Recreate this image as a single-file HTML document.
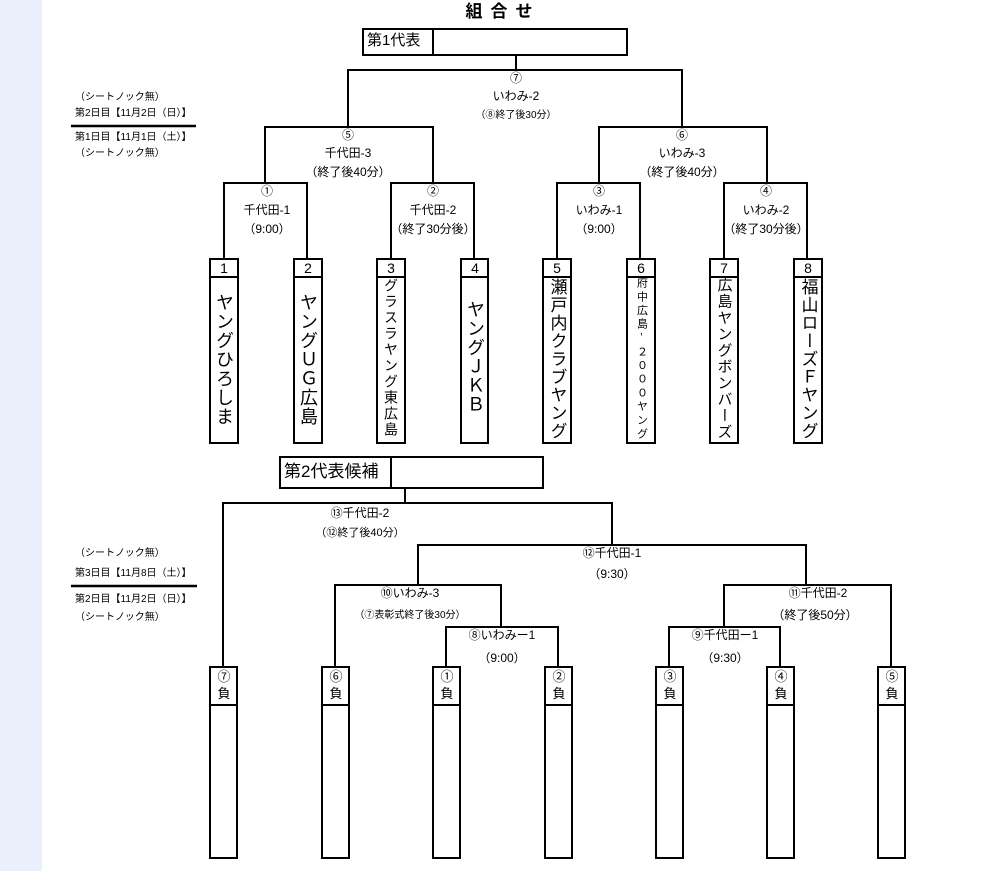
<!DOCTYPE html>
<html><head><meta charset="utf-8"><style>
body{margin:0;width:983px;height:871px;position:relative;background:#fff;overflow:hidden;font-family:"Liberation Sans","Noto Sans CJK JP",sans-serif;color:#000}
.strip{position:absolute;left:0;top:0;width:42px;height:871px;background:#e9f0fb}
.t{position:absolute;white-space:nowrap;transform:translateX(-50%);font-size:12px;line-height:14px}
.s{position:absolute;white-space:nowrap;font-size:10px;line-height:12px}
.v{position:absolute;writing-mode:vertical-rl;text-orientation:upright;white-space:nowrap;transform:translateX(-50%);line-height:1}
.n{position:absolute;font-size:14px;transform:translateX(-50%);line-height:16px}
</style></head><body>
<div class="strip"></div>
<svg width="983" height="871" style="position:absolute;left:0;top:0" fill="none" stroke="#000" stroke-width="2">
<rect x="363" y="29" width="264" height="26"/><line x1="433" y1="29" x2="433" y2="55"/>
<path d="M516 55V70M348 127V70H682V127M265 183V127H433V183M599 183V127H767V183"/>
<path d="M224 259V183H307V259M391 259V183H474V259M557 259V183H640V259M724 259V183H807V259"/>
<g>
<rect x="210" y="259" width="28" height="184"/><line x1="210" y1="277" x2="238" y2="277"/>
<rect x="294" y="259" width="28" height="184"/><line x1="294" y1="277" x2="322" y2="277"/>
<rect x="377" y="259" width="28" height="184"/><line x1="377" y1="277" x2="405" y2="277"/>
<rect x="461" y="259" width="27" height="184"/><line x1="461" y1="277" x2="488" y2="277"/>
<rect x="543" y="259" width="28" height="184"/><line x1="543" y1="277" x2="571" y2="277"/>
<rect x="627" y="259" width="28" height="184"/><line x1="627" y1="277" x2="655" y2="277"/>
<rect x="710" y="259" width="28" height="184"/><line x1="710" y1="277" x2="738" y2="277"/>
<rect x="794" y="259" width="28" height="184"/><line x1="794" y1="277" x2="822" y2="277"/>
</g>
<line x1="71" y1="126" x2="196" y2="126" stroke-width="2.5"/>
<line x1="71" y1="586" x2="197" y2="586" stroke-width="2.5"/>
<rect x="280" y="457" width="263" height="31"/><line x1="391" y1="457" x2="391" y2="488"/>
<path d="M405 488V503M223 667V503H612V545M418 585V545H806V585M335 667V585H501V627M724 627V585H891V667M446 667V627H558V667M669 667V627H780V667"/>
<g>
<rect x="210" y="667" width="27" height="191"/><line x1="210" y1="705" x2="237" y2="705"/>
<rect x="322" y="667" width="27" height="191"/><line x1="322" y1="705" x2="349" y2="705"/>
<rect x="433" y="667" width="27" height="191"/><line x1="433" y1="705" x2="460" y2="705"/>
<rect x="545" y="667" width="27" height="191"/><line x1="545" y1="705" x2="572" y2="705"/>
<rect x="656" y="667" width="27" height="191"/><line x1="656" y1="705" x2="683" y2="705"/>
<rect x="767" y="667" width="27" height="191"/><line x1="767" y1="705" x2="794" y2="705"/>
<rect x="878" y="667" width="27" height="191"/><line x1="878" y1="705" x2="905" y2="705"/>
</g>
</svg>
<div class="t" style="left:503px;top:2px;font-size:17px;line-height:20px;font-weight:bold;letter-spacing:8px">組合せ</div>
<div class="s" style="left:367px;top:32px;font-size:15px;line-height:18px">第1代表</div>
<div class="t" style="left:516px;top:71px">⑦</div>
<div class="t" style="left:516px;top:89px">いわみ-2</div>
<div class="t" style="left:516px;top:109px;font-size:10px">（⑧終了後30分）</div>
<div class="t" style="left:348px;top:128px">⑤</div><div class="t" style="left:348px;top:146px">千代田-3</div><div class="t" style="left:348px;top:165px">（終了後40分）</div>
<div class="t" style="left:682px;top:128px">⑥</div><div class="t" style="left:682px;top:146px">いわみ-3</div><div class="t" style="left:682px;top:165px">（終了後40分）</div>
<div class="t" style="left:267px;top:184px">①</div><div class="t" style="left:267px;top:203px">千代田-1</div><div class="t" style="left:267px;top:222px">（9:00）</div>
<div class="t" style="left:433px;top:184px">②</div><div class="t" style="left:433px;top:203px">千代田-2</div><div class="t" style="left:433px;top:222px">（終了30分後）</div>
<div class="t" style="left:599px;top:184px">③</div><div class="t" style="left:599px;top:203px">いわみ-1</div><div class="t" style="left:599px;top:222px">（9:00）</div>
<div class="t" style="left:766px;top:184px">④</div><div class="t" style="left:766px;top:203px">いわみ-2</div><div class="t" style="left:766px;top:222px">（終了30分後）</div>
<div class="s" style="left:75px;top:92px">（シートノック無）</div>
<div class="s" style="left:75px;top:108px">第2日目【11月2日（日）】</div>
<div class="s" style="left:75px;top:132px">第1日目【11月1日（土）】</div>
<div class="s" style="left:75px;top:148px">（シートノック無）</div>
<div class="n" style="left:224px;top:260px">1</div><div class="n" style="left:308px;top:260px">2</div><div class="n" style="left:391px;top:260px">3</div><div class="n" style="left:475px;top:260px">4</div><div class="n" style="left:557px;top:260px">5</div><div class="n" style="left:641px;top:260px">6</div><div class="n" style="left:724px;top:260px">7</div><div class="n" style="left:808px;top:260px">8</div>
<div class="v" style="left:224px;top:293px;font-size:18px;letter-spacing:1px">ヤングひろしま</div>
<div class="v" style="left:308px;top:293px;font-size:18px;letter-spacing:1px">ヤングＵＧ広島</div>
<div class="v" style="left:391px;top:278px;font-size:14px;letter-spacing:2px">グラスラヤング東広島</div>
<div class="v" style="left:475px;top:300px;font-size:18px;letter-spacing:1px">ヤングＪＫＢ</div>
<div class="v" style="left:557px;top:278px;font-size:17px;letter-spacing:1px">瀬戸内クラブヤング</div>
<div class="v" style="left:641px;top:277px;font-size:11px;letter-spacing:2.6px">府中広島’２０００ヤング</div>
<div class="v" style="left:724px;top:277px;font-size:15px;letter-spacing:1.3px">広島ヤングボンバーズ</div>
<div class="v" style="left:808px;top:278px;font-size:17px;letter-spacing:1px">福山ローズＦヤング</div>
<div class="s" style="left:284px;top:462px;font-size:17px;line-height:20px">第2代表候補</div>
<div class="t" style="left:360px;top:506px">⑬千代田-2</div><div class="t" style="left:360px;top:526px;font-size:11px">（⑫終了後40分）</div>
<div class="t" style="left:612px;top:546px">⑫千代田-1</div><div class="t" style="left:612px;top:567px">（9:30）</div>
<div class="t" style="left:410px;top:586px">⑩いわみ-3</div><div class="t" style="left:410px;top:609px;font-size:10px">（⑦表彰式終了後30分）</div>
<div class="t" style="left:502px;top:628px">⑧いわみー1</div><div class="t" style="left:502px;top:651px">（9:00）</div>
<div class="t" style="left:818px;top:586px">⑪千代田-2</div><div class="t" style="left:815px;top:608px">（終了後50分）</div>
<div class="t" style="left:725px;top:628px">⑨千代田ー1</div><div class="t" style="left:725px;top:651px">（9:30）</div>
<div class="s" style="left:75px;top:548px">（シートノック無）</div>
<div class="s" style="left:75px;top:568px">第3日目【11月8日（土）】</div>
<div class="s" style="left:75px;top:594px">第2日目【11月2日（日）】</div>
<div class="s" style="left:75px;top:612px">（シートノック無）</div>
<div class="t" style="left:224px;top:668px;font-size:13px;line-height:17px;text-align:center">⑦<br>負</div>
<div class="t" style="left:336px;top:668px;font-size:13px;line-height:17px;text-align:center">⑥<br>負</div>
<div class="t" style="left:447px;top:668px;font-size:13px;line-height:17px;text-align:center">①<br>負</div>
<div class="t" style="left:559px;top:668px;font-size:13px;line-height:17px;text-align:center">②<br>負</div>
<div class="t" style="left:670px;top:668px;font-size:13px;line-height:17px;text-align:center">③<br>負</div>
<div class="t" style="left:781px;top:668px;font-size:13px;line-height:17px;text-align:center">④<br>負</div>
<div class="t" style="left:892px;top:668px;font-size:13px;line-height:17px;text-align:center">⑤<br>負</div>
</body></html>
